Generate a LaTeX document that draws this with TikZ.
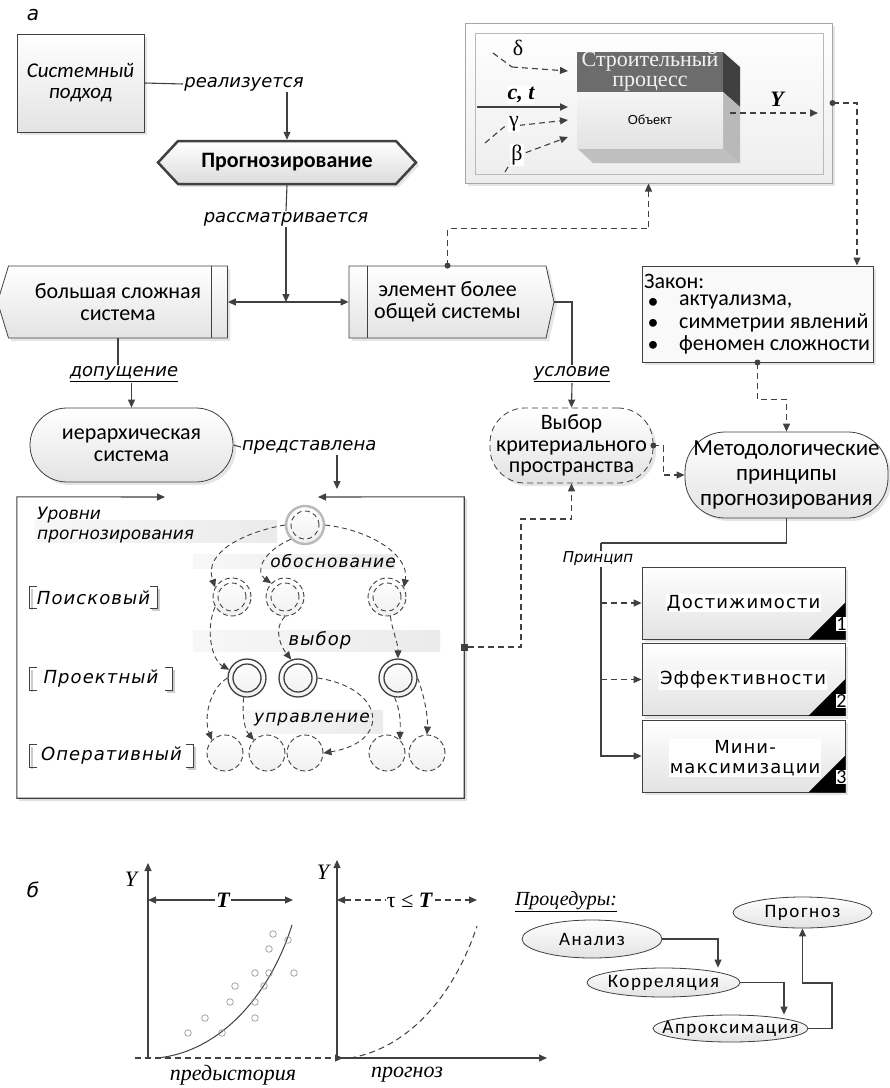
\documentclass[tikz,border=0pt]{standalone}
\usepackage{fontspec}
\setmainfont{Carlito}
\newfontfamily\verd{DejaVu Sans}
\newfontfamily\verdls{DejaVu Sans}[LetterSpace=6]
\newfontfamily\calls{Carlito}[LetterSpace=8]
\newfontfamily\tms{Liberation Serif}
\newfontfamily\arl{Liberation Sans}
\usetikzlibrary{shapes.symbols,shapes.geometric,arrows.meta,shadows,calc}
\newcommand\fsz[2]{\fontsize{#1}{#2}\selectfont}
\definecolor{lc}{HTML}{404040}
\begin{document}
\begin{tikzpicture}[x=1pt,y=-1pt,
  >={Triangle[length=8pt,width=7pt]},
  conn/.style={draw=lc,line width=1.1pt},
  dconn/.style={draw=lc,line width=1.1pt,dash pattern=on 6pt off 4pt},
  hconn/.style={draw=lc,line width=0.9pt,dash pattern=on 5pt off 3.5pt},
  shd/.style={drop shadow={shadow xshift=3pt,shadow yshift=-3pt,opacity=0.2}},
  gbox/.style={draw=lc,line width=0.8pt,top color=white,bottom color=gray!22,shd,inner sep=0pt},
  lbl/.style={font=\verd\itshape\fsz{18}{20},inner sep=1pt},
  lvlbox/.style={fill=white,inner sep=0pt,font=\verdls\itshape\fsz{18}{19}},
  brk/.style={draw=lc,line width=1pt},
  brks/.style={draw=gray!40,line width=2pt},
  ell/.style={ellipse,draw=lc,line width=0.8pt,top color=white,bottom color=gray!22,inner sep=0pt,font=\calls\fsz{19}{19}},
  pbox/.style={gbox,minimum width=203,minimum height=72},
  ptxt/.style={fill=white,inner sep=1pt,font=\verdls\fsz{18}{21},align=center},
  num/.style={fill=white,inner sep=0.5pt,font=\fsz{20}{20}},
  cbase/.style={circle,minimum size=38,inner sep=0pt,top color=white,bottom color=gray!12},
  ctop/.style={cbase,draw=gray!55,line width=2.4pt},
  csrch/.style={cbase,draw=lc,line width=0.9pt,dash pattern=on 5pt off 3pt},
  cproj/.style={cbase,draw=lc,line width=1.3pt},
  coper/.style={cbase,minimum size=36,draw=lc,line width=0.9pt,dash pattern=on 5pt off 3pt},
  band/.style={left color=gray!6,right color=gray!16},
  sm/.style={draw=gray!80,line width=0.7pt}
]
\useasboundingbox[fill=white] (0,0) rectangle (890,1088);

% ---------- part a labels
\node[font=\verd\itshape\fsz{20}{22}] (la) at (33,15) {а};
\node[font=\verd\itshape\fsz{20}{22}] (lb) at (33,890) {б};

% ---------- system approach
\node[gbox,minimum width=127,minimum height=98,font=\itshape\fsz{21}{21},align=center] (sys) at (80.5,83) {Системный\\подход};
\node[lbl] (rl) at (244,84) {реализуется};
\node[signal,signal to=east and west,signal pointer angle=94,draw=lc,line width=2.5pt,top color=white,bottom color=gray!28,shd,minimum width=258,minimum height=43,inner sep=0pt,font=\bfseries\fsz{22}{22}] (prog) at (287,162.5) {Прогнозирование};
\draw[conn] (sys.east) -- (rl.west);
\draw[conn,->] (prog.north |- rl.south) -- (prog.north);
\node[lbl] (rs) at (286,219) {рассматривается};
\draw[conn] (prog.south) -- (rs.north);
\coordinate (j1) at (286,302);
\draw[conn,->] (rs.south) -- (j1);

% ---------- big system / element
\node[gbox,signal,signal to=west,signal pointer angle=146,minimum width=230,minimum height=72,font=\fsz{22}{22},align=center] (big) at (118,302) {большая сложная\\система};
\draw[draw=lc,line width=0.8pt] ($(big.north)+(93,0)$) -- ($(big.south)+(93,0)$);
\node[gbox,signal,signal to=east,signal pointer angle=155,minimum width=205,minimum height=72,font=\fsz{22}{22},align=center] (elem) at (447.5,302) {элемент более\\общей системы};
\draw[draw=lc,line width=0.8pt] ($(elem.north)+(-80.5,0)$) -- ($(elem.south)+(-80.5,0)$);
\draw[conn,<->] (big.east) -- (elem.west);

% ---------- hierarchical system
\node[lbl] (dp) at (124,374) {\underline{допущение}};
\node[gbox,rounded corners=37,minimum width=203,minimum height=74,font=\fsz{22}{22},align=center] (hier) at (131.5,445) {иерархическая\\система};
\draw[conn] (big.south) -- (big.south |- dp.north);
\draw[conn,->] (dp.south -| hier.north) -- (hier.north);
\node[lbl,anchor=west] (pr) at (241,447) {представлена};
\draw[conn] (hier.east) -- (pr.west);
\coordinate (hin) at (337,489);
\draw[conn,->] (pr.south -| hin) -- (hin);

% ---------- hierarchy frame
\node[minimum width=447,minimum height=301,inner sep=0pt] (hbox) at (240.5,647.5) {};
\draw[draw=gray!25,line width=2pt] ([shift={(2,2)}]hbox.north east) -- ([shift={(2,2)}]hbox.south east) -- ([shift={(2,2)}]hbox.south west);
\draw[conn,<->] (318,497) -- (hbox.north east) -- (hbox.south east) -- (hbox.south west) -- (hbox.north west) -- (165,497);

% bands
\shade[band] (35,520) rectangle (277,542);
\shade[band] (193,554) rectangle (395,568);
\shade[band] (193,630) rectangle (440,651);
\shade[band] (245,710) rectangle (383,733);
\node[font=\verd\itshape\fsz{17}{20},anchor=west,align=left,inner sep=0pt] (ul) at (37,525) {Уровни\\прогнозирования};
\node[font=\verdls\itshape\fsz{17}{19},inner sep=1pt] (ob) at (333,561) {обоснование};
\node[font=\verdls\itshape\fsz{18}{19},inner sep=1pt] (vb) at (320,640) {выбор};
\node[font=\verdls\itshape\fsz{17}{19},inner sep=1pt] (up) at (312,719) {управление};

% level labels
\node[lvlbox,minimum width=127,minimum height=21] (L1) at (93.5,597.5) {Поисковый};
\node[lvlbox,minimum width=142,minimum height=22] (L2) at (101,679) {Проектный};
\node[lvlbox,minimum width=163,minimum height=22] (L3) at (111.5,756) {Оперативный};
\foreach \n in {L1,L2,L3}{
  \draw[brks] ([shift={(2,2)}]\n.north west) -- ([shift={(2,2)}]\n.south west);
  \draw[brks] ([shift={(2,2)}]\n.north east) -- ([shift={(2,2)}]\n.south east) -- ([shift={(-5,2)}]\n.south east);
  \draw[brk] ([xshift=7pt]\n.north west) -- (\n.north west) -- (\n.south west) -- ([xshift=7pt]\n.south west);
  \draw[brk] ([xshift=-7pt]\n.north east) -- (\n.north east) -- (\n.south east) -- ([xshift=-7pt]\n.south east);
}

% circles
\node[ctop] (t0) at (305,525) {};
\draw[hconn] (t0.center) circle[radius=14pt];
\node[csrch] (s1) at (232,597) {};
\node[csrch] (s2) at (285,597) {};
\node[csrch] (s3) at (387,597) {};
\foreach \n in {s1,s2,s3} \draw[hconn] (\n.center) circle[radius=14pt];
\node[cproj] (r1) at (247,678) {};
\node[cproj] (r2) at (298,678) {};
\node[cproj] (r3) at (398,678) {};
\foreach \n in {r1,r2,r3} \draw[draw=lc,line width=1.3pt] (\n.center) circle[radius=14pt];
\node[coper] (o1) at (225,753) {};
\node[coper] (o2) at (267,753) {};
\node[coper] (o3) at (305,753) {};
\node[coper] (o4) at (387,753) {};
\node[coper] (o5) at (427,753) {};

\draw[hconn,->] (t0.west) .. controls (245,532) and (203,552) .. (s1.150);
\draw[hconn,->] (t0.south west) .. controls (262,552) and (255,572) .. (s2.north west);
\draw[hconn,->] (t0.east) .. controls (370,530) and (410,555) .. (s3.30);
\draw[hconn,->] (s1.210) .. controls (205,630) and (212,660) .. (r1.155);
\draw[hconn,->] (s2.south) .. controls (272,630) and (282,648) .. (r2.110);
\draw[hconn,->] (s3.280) .. controls (392,630) and (398,642) .. (r3.north);
\draw[hconn,->] (r1.west) .. controls (208,690) and (204,720) .. (o1.north west);
\draw[hconn,->] (r1.260) .. controls (242,718) and (245,730) .. (o2.north west);
\draw[hconn,->] (r2.east) .. controls (385,688) and (392,742) .. (o3.east);
\draw[hconn,->] (r3.260) .. controls (402,715) and (400,728) .. (o4.north east);
\draw[hconn,->] (r3.east) .. controls (425,698) and (428,718) .. (o5.north);

% ---------- process box (top right)
\node[draw=gray!70,line width=1pt,top color=white,bottom color=gray!14,shd,minimum width=367,minimum height=160,inner sep=0pt] (procbox) at (648.5,103) {};
\draw[draw=gray!55,line width=1pt] (475,33) rectangle (823,174);
\node[minimum width=146,minimum height=96,inner sep=0pt] (obj) at (650,100) {};
\fill[gray!50] (577,148) -- (593,163) -- (740,163) -- (723,148) -- cycle;
\fill[gray!50!black] (723,52) -- (740,67) -- (740,107) -- (723,92) -- cycle;
\fill[gray!55] (723,92) -- (740,107) -- (740,163) -- (723,148) -- cycle;
\fill[gray!85!black] (577,52) rectangle (723,92);
\shade[top color=gray!8,bottom color=gray!22] (577,92) rectangle (723,148);
\node[font=\tms\fsz{22}{20},text=gray!10,align=center,inner sep=0pt] (objt) at (650,71) {Строительный\\процесс};
\node[font=\arl\fsz{13}{14},inner sep=0pt] (objb) at (650,120) {Объект};

\coordinate (d0) at (493,53); \coordinate (d1) at (512,67); \coordinate (d2) at (568,71);
\draw[dconn] (d0) -- (d1);
\draw[dconn,->] (d1) -- (d2);
\node[font=\tms\fsz{22}{22},inner sep=0pt] (dl) at (518,48) {δ};
\coordinate (c0) at (477,107); \coordinate (c1) at (568,107);
\draw[conn,line width=1.8pt,->] (c0) -- (c1);
\node[fill=white,font=\tms\bfseries\itshape\fsz{22}{22},inner sep=1pt] (ct) at (521,95) {c, t};
\coordinate (g0) at (485,143); \coordinate (g1) at (504,127); \coordinate (g2) at (568,120);
\draw[dconn,->] (g0) -- (g1) -- (g2);
\node[fill=white,font=\tms\fsz{22}{22},inner sep=1pt] (gl) at (514,124) {γ};
\coordinate (b0) at (505,172); \coordinate (b1) at (514,157); \coordinate (b2) at (568,137);
\draw[dconn,->] (b0) -- (b1) -- (b2);
\node[fill=white,font=\tms\fsz{22}{22},inner sep=1pt] (bl) at (517,155) {β};
\coordinate (y0) at (730,113); \coordinate (y1) at (818,113);
\draw[dconn,line width=1.6pt,->] (y0) -- (y1);
\node[font=\tms\bfseries\itshape\fsz{22}{22},inner sep=0pt] (yl) at (777,99) {Y};

% connectors elem -> procbox
\fill[lc] (elem.north) circle[radius=3pt];
\draw[dconn,->] (elem.north) -- ++(0,-37) -| (procbox.south);

% ---------- law box
\node[draw=lc,line width=1pt,fill=gray!5,shd,minimum width=231,minimum height=96,inner sep=0pt] (zakon) at (757.5,314) {};
\node[anchor=west,font=\fsz{22}{22},inner sep=0pt] (z0) at (644,281) {Закон:};
\node[font=\fsz{22}{22},inner sep=0pt] (zb1) at (653,303) {•};
\node[font=\fsz{22}{22},inner sep=0pt] (zb2) at (653,324) {•};
\node[font=\fsz{22}{22},inner sep=0pt] (zb3) at (653,346) {•};
\node[anchor=west,font=\fsz{22}{22},inner sep=0pt] (z1) at (679,302) {актуализма,};
\node[anchor=west,font=\fsz{22}{22},inner sep=0pt] (z2) at (679,323) {симметрии явлений};
\node[anchor=west,font=\fsz{22}{22},inner sep=0pt] (z3) at (679,345) {феномен сложности};
\fill[lc] (procbox.east) circle[radius=3pt];
\draw[dconn,->] (procbox.east) -| ([xshift=99.5pt]zakon.north);

% ---------- methodological principles
\node[gbox,rounded corners=40,minimum width=203,minimum height=86,font=\fsz{23}{25},align=center] (metod) at (786.5,475) {Методологические\\принципы\\прогнозирования};
\fill[lc] (zakon.south) circle[radius=3pt];
\draw[dconn,->] (zakon.south) -- ++(0,37) -| (metod.north);

\node[gbox,rounded corners=35,dash pattern=on 6pt off 4pt,minimum width=163,minimum height=75,font=\fsz{22}{21.5},align=center] (vybor) at (571.5,445.5) {Выбор\\критериального\\пространства};
\node[lbl] (us) at (572,374) {\underline{условие}};
\draw[conn] (elem.east) -| (us.north);
\draw[conn,->] (us.south) -- (vybor.north);
\fill[lc] (vybor.east) circle[radius=3pt];
\draw[dconn,->] (vybor.east) -- ++(10,0) |- (metod.west);
\node[fill=lc,minimum size=7,inner sep=0pt] (sq) at (464,647) {};
\draw[dconn,->] (sq) -| (521,519) -| (vybor.south);

% ---------- principles
\node[pbox] (p1) at (743.5,603) {};
\node[pbox] (p2) at (743.5,679.5) {};
\node[pbox] (p3) at (743.5,756) {};
\node[ptxt] (p1t) at (743.5,603) {Достижимости};
\node[ptxt] (p2t) at (743,680) {Эффективности};
\node[ptxt,font=\verdls\fsz{18}{20}] (p3t) at (745,758) {Мини-\\максимизации};
\foreach \n/\k in {p1/1,p2/2,p3/3}{
  \fill[black] ([xshift=-37pt]\n.south east) -- (\n.south east) -- ([yshift=37pt]\n.south east) -- cycle;
  \node[num] (\n n) at ($(\n.south east)+(-4,-15)$) {\k};
}
\coordinate (bus) at (601,543);
\draw[conn] (metod.south) |- (bus);
\draw[conn,->] (bus) |- (p3.west);
\draw[dconn,->] (bus |- p1.west) -- (p1.west);
\draw[dconn,->] (bus |- p2.west) -- (p2.west);
\node[fill=white,font=\verd\itshape\fsz{15}{17},inner sep=1pt] (pc) at (598,559) {Принцип};

% ---------- part b: graph
\coordinate (ax1) at (148,1058); \coordinate (ax1t) at (148,863);
\coordinate (ax2) at (337,1058); \coordinate (ax2t) at (337,860);
\draw[conn,->] (ax1) -- (ax1t);
\draw[dconn,->] (135,1058) -- (343,1058);
\draw[conn,->] (ax2) -- (547,1058);
\draw[conn,->] (ax2) -- (ax2t);
\node[font=\tms\itshape\fsz{22}{22},inner sep=0pt] (y1l) at (131,879) {Y};
\node[font=\tms\itshape\fsz{22}{22},inner sep=0pt] (y2l) at (323,872) {Y};
\draw[conn,<->] (148,900) -- (293,900);
\node[fill=white,font=\tms\bfseries\itshape\fsz{22}{22},inner sep=1pt] (tl) at (223,900) {T};
\draw[dconn,<->] (337,900) -- (477,900);
\node[fill=white,font=\tms\fsz{22}{22},inner sep=1pt] (taul) at (410,900) {τ ≤ \textbf{\textit{T}}};
\draw[draw=lc,line width=1pt] (157,1058) .. controls (220,1052) and (270,995) .. (292,925);
\draw[draw=lc,line width=1pt,dash pattern=on 6pt off 4pt] (350,1058) .. controls (410,1048) and (455,993) .. (477,926);
\foreach \p in {(273,934),(288,940),(269,949),(255,973),(269,973),(294,973),(235,986),(264,986),(230,1002),(255,1002),(205,1018),(255,1018),(188,1033),(222,1033)}
  \draw[sm] \p circle[radius=3.3pt];
\node[font=\tms\itshape\fsz{22}{22},inner sep=0pt] (pre) at (233,1075) {предыстория};
\node[font=\tms\itshape\fsz{22}{22},inner sep=0pt] (prg) at (407,1075) {прогноз};

% ---------- procedures
\node[font=\tms\itshape\fsz{20}{20},inner sep=0pt] (proc) at (566,902) {\underline{Процедуры:}};
\node[ell,minimum width=140,minimum height=38] (an) at (592,939) {\makebox[0pt]{Анализ}};
\node[ell,minimum width=153,minimum height=29] (kor) at (663.5,982.5) {\makebox[0pt]{Корреляция}};
\node[ell,minimum width=155,minimum height=27] (apr) at (730.5,1028.5) {\makebox[0pt]{Апроксимация}};
\node[ell,minimum width=139,minimum height=31] (pgz) at (802.5,912.5) {\makebox[0pt]{Прогноз}};
\draw[conn,->] (an.east) -| ([xshift=54.5pt]kor.north);
\draw[conn,->] (kor.east) -| ([xshift=53.5pt]apr.north);
\draw[conn,->] (apr.east) -| (832,983) -| (pgz.south);
\end{tikzpicture}
\end{document}
